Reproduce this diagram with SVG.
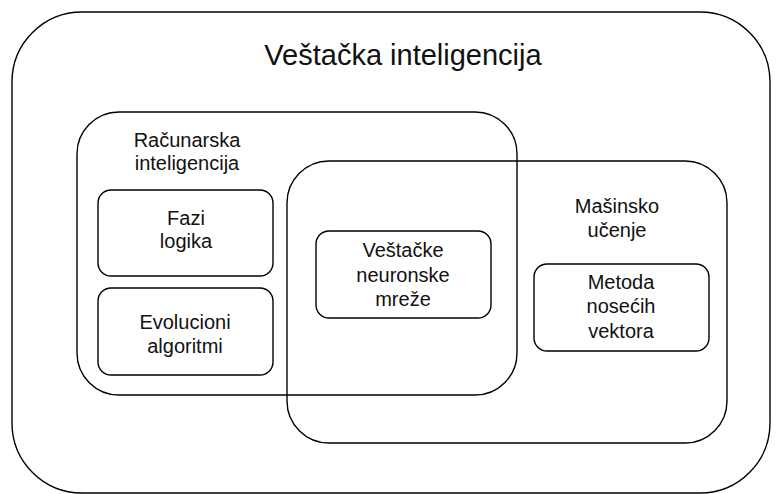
<svg xmlns="http://www.w3.org/2000/svg" width="782" height="494" viewBox="0 0 782 494">
<style>
.box{fill:none;stroke:#000;stroke-width:1.4}
.t{font-family:"Liberation Sans",Arial,sans-serif;font-size:20px;fill:#111;text-anchor:middle}
.title{font-family:"Liberation Sans",Arial,sans-serif;font-size:29px;fill:#111;text-anchor:middle}
</style>
<rect width="782" height="494" fill="#fff"/>
<g id="ai">
<rect class="box" x="12" y="12" width="758" height="481" rx="70" ry="70"/>
<text class="title" x="403" y="65">Veštačka inteligencija</text>
</g>
<g id="ci">
<rect class="box" x="77" y="112" width="440" height="283" rx="42" ry="42"/>
<text class="t" x="187" y="147">Računarska</text>
<text class="t" x="187" y="170">inteligencija</text>
</g>
<g id="ml">
<rect class="box" x="287" y="161" width="440" height="282" rx="42" ry="42"/>
<text class="t" x="617" y="213">Mašinsko</text>
<text class="t" x="617" y="237">učenje</text>
</g>
<g id="fazi">
<rect class="box" x="98" y="190" width="175" height="86" rx="13" ry="13"/>
<text class="t" x="186" y="225">Fazi</text>
<text class="t" x="186" y="248">logika</text>
</g>
<g id="evo">
<rect class="box" x="98" y="288" width="175" height="87" rx="13" ry="13"/>
<text class="t" x="185" y="329">Evolucioni</text>
<text class="t" x="185" y="353">algoritmi</text>
</g>
<g id="nn">
<rect class="box" x="316" y="231" width="175" height="87" rx="13" ry="13"/>
<text class="t" x="403" y="257">Veštačke</text>
<text class="t" x="403" y="282">neuronske</text>
<text class="t" x="403" y="306">mreže</text>
</g>
<g id="svm">
<rect class="box" x="534" y="264" width="175" height="87" rx="13" ry="13"/>
<text class="t" x="621" y="289">Metoda</text>
<text class="t" x="621" y="313">nosećih</text>
<text class="t" x="621" y="338">vektora</text>
</g>
<g id="connectors"></g>
</svg>
